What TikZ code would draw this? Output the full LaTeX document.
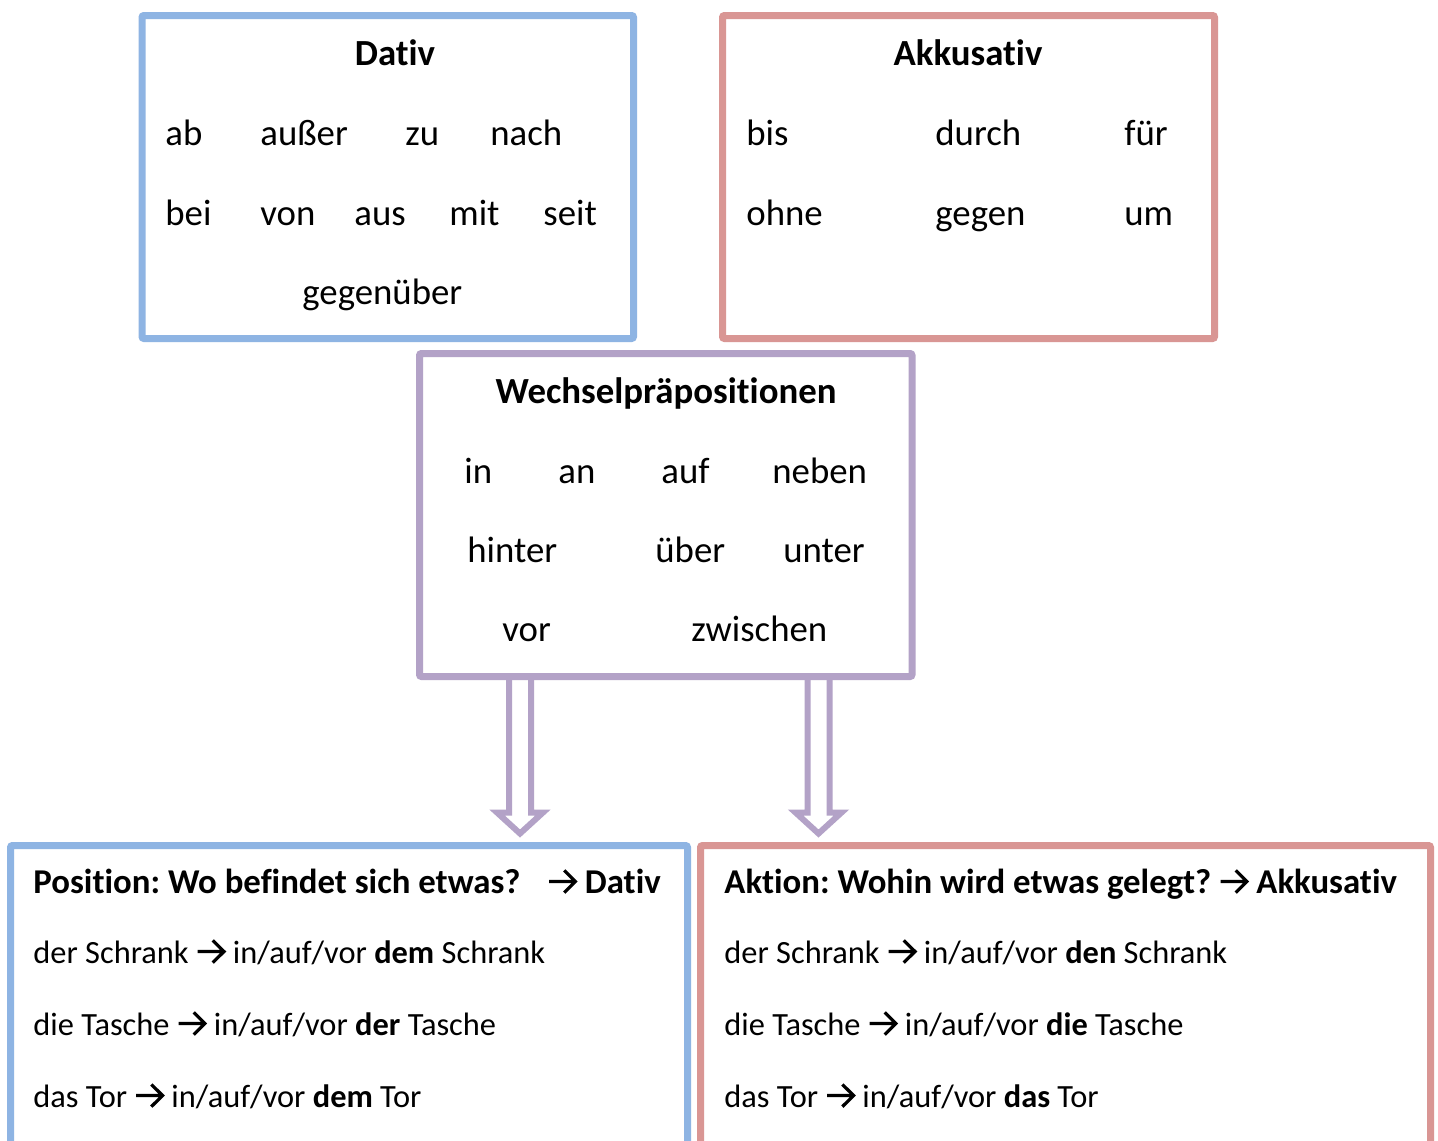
\documentclass[tikz,border=0pt]{standalone}
\usepackage{fontspec}
\setmainfont{Carlito}[Ligatures=NoCommon]
\frenchspacing
\usetikzlibrary{positioning}
\definecolor{PrBlue}{HTML}{8EB4E3}
\definecolor{PrRed}{HTML}{D99694}
\definecolor{PrLila}{HTML}{B3A2C7}
\newcommand{\pfeil}{\tikz[baseline=0pt,x=1pt,y=1pt]\draw[line width=1.6pt,line join=miter]
  (0,5.75)--(13,5.75) (7.6,11.3)--(13.2,5.75)--(7.6,0.2);}
\tikzset{
  kasten/.style={draw=#1,line width=3.5pt,rounded corners=1pt,inner sep=0pt,outer sep=0pt,anchor=north west},
  wort/.style={anchor=base west,inner sep=0pt,font=\fontsize{18.4}{22}\selectfont},
  titel/.style={anchor=base,inner sep=0pt,font=\fontsize{18.4}{22}\selectfont\bfseries},
  zeile/.style={anchor=base west,inner sep=0pt,font=\fontsize{16.2}{19}\selectfont},
  kopf/.style={anchor=base west,inner sep=0pt,font=\fontsize{17.4}{20}\selectfont\bfseries},
  hohlpfeil/.style={draw=PrLila,line width=3pt,line join=miter}
}
\begin{document}
\begin{tikzpicture}[x=0.5pt,y=-0.5pt]
  \clip (0,0) rectangle (1438,1140);
  \fill[white] (0,0) rectangle (1438,1140);
  % drei Kaesten oben
  \node[kasten=PrBlue,minimum width=245.75pt,minimum height=161.5pt] (dat) at (142,15.5) {};
  \node[kasten=PrRed,minimum width=246pt,minimum height=161.5pt] (akk) at (722.5,15.5) {};
  \node[kasten=PrLila,minimum width=246.25pt,minimum height=161.5pt] (wp) at (419.5,353.5) {};
  % zwei Kaesten unten
  \node[kasten=PrBlue,minimum width=338.5pt,minimum height=170pt] (pos) at (10.5,845.5) {};
  \node[kasten=PrRed,minimum width=365pt,minimum height=170pt] (akt) at (700.5,845.5) {};
  % Hohlpfeile
  \foreach \x/\n in {520/links,818.5/rechts}
    \draw[hohlpfeil] (\x-11,678) -- (\x-11,812.5) -- (\x-23,812.5) -- (\x,833.5)
      -- (\x+23,812.5) -- (\x+11,812.5) -- (\x+11,678);
  % Dativ
  \node[titel] (datT) at (395,65) {Dativ};
  \foreach \x/\w [count=\i] in {165/ab,260/außer,405/zu,490/nach}
    \node[wort] (datA\i) at (\x,145) {\w};
  \foreach \x/\w [count=\i] in {165/bei,260/von,354/aus,449/mit,543/seit}
    \node[wort] (datB\i) at (\x,225) {\w};
  \node[wort] (datC1) at (302,304) {gegenüber};
  % Akkusativ
  \node[titel] (akkT) at (968,65) {Akkusativ};
  \foreach \x/\w [count=\i] in {746/bis,935/durch,1124/für}
    \node[wort] (akkA\i) at (\x,145) {\w};
  \foreach \x/\w [count=\i] in {746/ohne,935/gegen,1124/um}
    \node[wort] (akkB\i) at (\x,225) {\w};
  % Wechselpraepositionen
  \node[titel] (wpT) at (666,403) {Wechselpräpositionen};
  \foreach \x/\w [count=\i] in {464/in,558/an,661/auf,772/neben}
    \node[wort] (wpA\i) at (\x,483) {\w};
  \foreach \x/\w [count=\i] in {467/hinter,655/über,783/unter}
    \node[wort] (wpB\i) at (\x,562) {\w};
  \foreach \x/\w [count=\i] in {502/vor,691/zwischen}
    \node[wort] (wpC\i) at (\x,641) {\w};
  % Position
  \node[kopf] (posT) at (33,893) {Position: Wo befindet sich etwas?};
  \node[kopf] (posK) at (547,893) {\pfeil\ Dativ};
  \node[zeile] (pos1) at (33,963) {der Schrank \pfeil{} in/auf/vor \textbf{dem} Schrank};
  \node[zeile] (pos2) at (33,1035) {die Tasche \pfeil{} in/auf/vor \textbf{der} Tasche};
  \node[zeile] (pos3) at (33,1107) {das Tor \pfeil{} in/auf/vor \textbf{dem} Tor};
  % Aktion
  \node[kopf] (aktT) at (724,893) {Aktion: Wohin wird etwas gelegt? \pfeil{} Akkusativ};
  \node[zeile] (akt1) at (724,963) {der Schrank \pfeil{} in/auf/vor \textbf{den} Schrank};
  \node[zeile] (akt2) at (724,1035) {die Tasche \pfeil{} in/auf/vor \textbf{die} Tasche};
  \node[zeile] (akt3) at (724,1107) {das Tor \pfeil{} in/auf/vor \textbf{das} Tor};
\end{tikzpicture}
\end{document}
